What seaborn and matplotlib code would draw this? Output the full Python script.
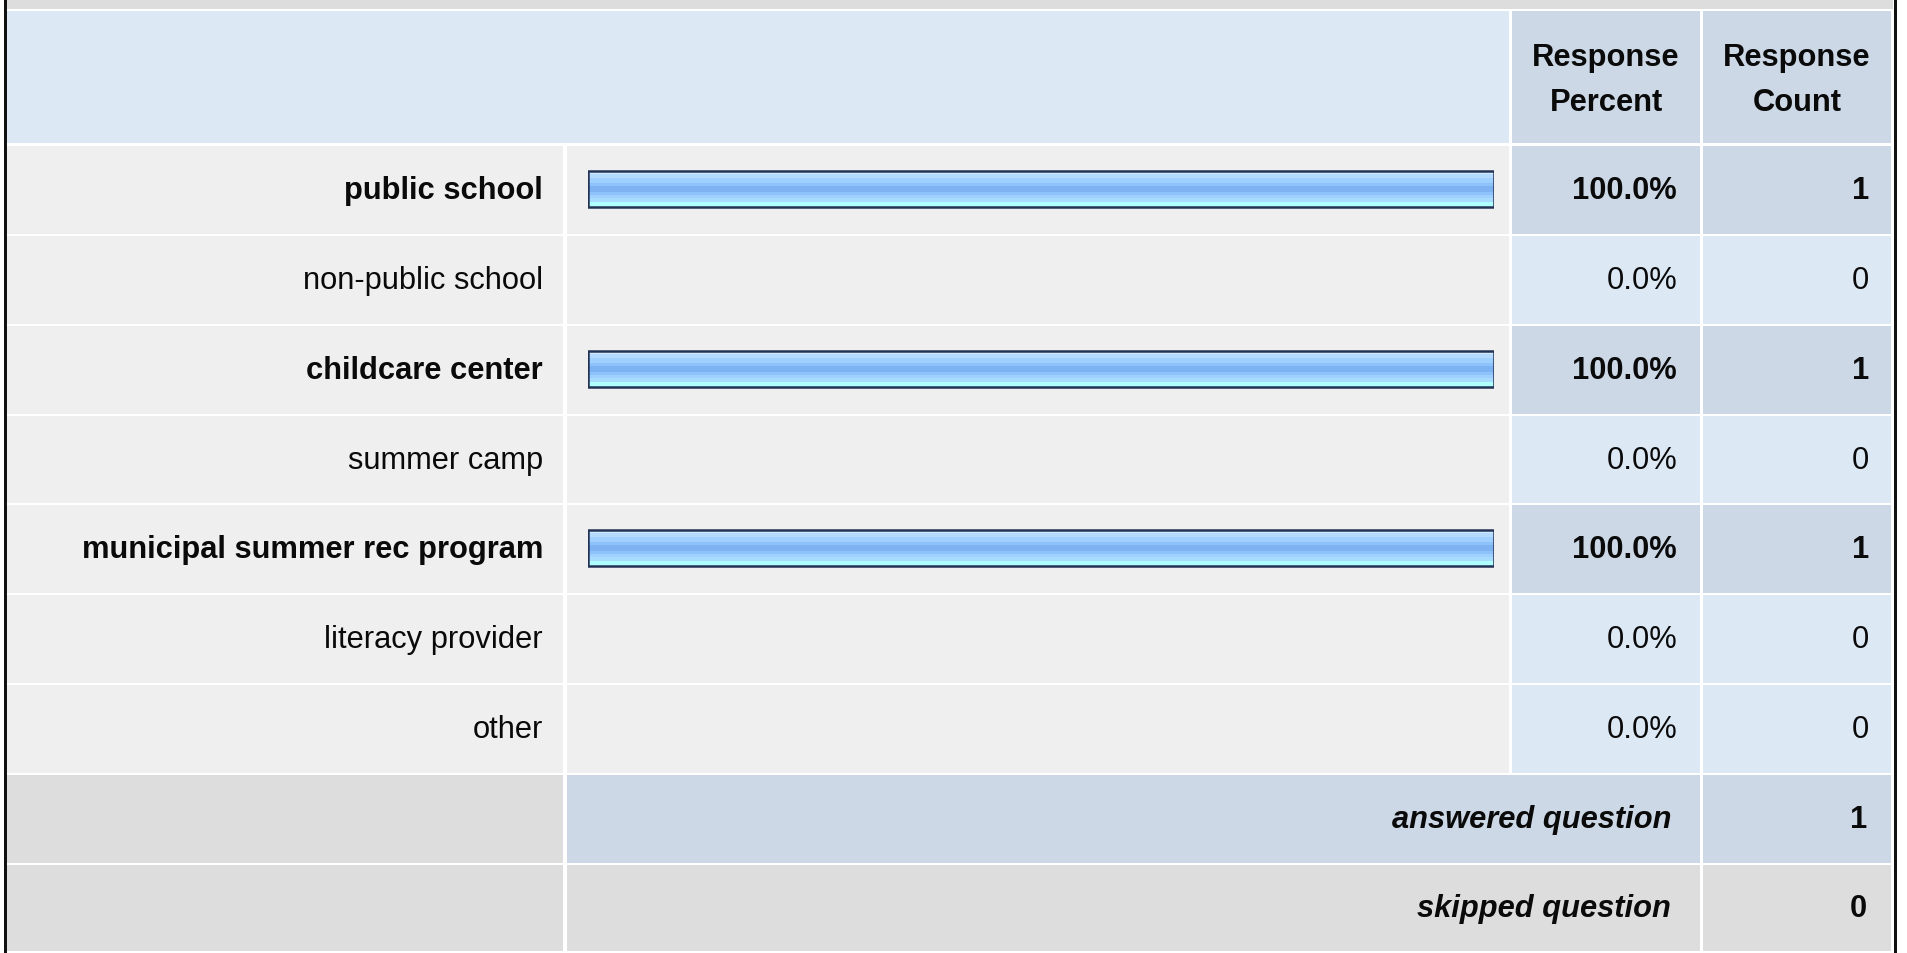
import numpy as np
import pandas as pd
import matplotlib
matplotlib.use("Agg")
import matplotlib.pyplot as plt
from matplotlib.patches import Rectangle
from matplotlib.colors import to_rgb
import seaborn as sns

# ---- data ----
categories = ["public school", "non-public school", "childcare center", "summer camp",
              "municipal summer rec program", "literacy provider", "other"]
percents = [100.0, 0.0, 100.0, 0.0, 100.0, 0.0, 0.0]
counts = [1, 0, 1, 0, 1, 0, 0]
header_labels = ["Response\nPercent", "Response\nCount"]
answered_label = "answered question"
answered_count = 1
skipped_label = "skipped question"
skipped_count = 0

sns.set_theme(style="white")
plt.rcParams["font.family"] = ["Liberation Sans", "DejaVu Sans"]

W, H = 1907, 954
fig = plt.figure(figsize=(W / 100, H / 100), dpi=100)
fig.patch.set_facecolor("white")

FS = 22.2
C_HEAD = "#dde8f5"
C_HEAD2 = "#ccd8e6"
C_ROW = "#efefef"
C_GRAY = "#dddddd"
C_HI = "#ccd8e6"
C_LO = "#dde8f5"
TXT = "#0a0a0a"

# background table layer in pixel coordinates
bg = fig.add_axes([0, 0, 1, 1])
bg.set_xlim(0, W)
bg.set_ylim(H, 0)
bg.axis("off")

def cell(x0, x1, y0, y1, color):
    bg.add_patch(Rectangle((x0, y0), x1 - x0, y1 - y0, facecolor=color,
                           edgecolor="none", zorder=1))

LX0, LX1 = 6.5, 563
BX0, BX1 = 567, 1509
PX0, PX1 = 1512, 1700
CX0, CX1 = 1703, 1891
TOP = 145.0
PITCH = 89.86

# top band and header
cell(6.5, 1893, 0, 9.5, C_GRAY)
cell(LX0, BX1, 11.5, 143.5, C_HEAD)
cell(PX0, PX1, 11.5, 143.5, C_HEAD2)
cell(CX0, CX1, 11.5, 143.5, C_HEAD2)
for txt, (a, b) in zip(header_labels, [(PX0, PX1), (CX0, CX1)]):
    l1, l2 = txt.split("\n")
    xc = (a + b) / 2
    bg.text(xc, 58, l1, ha="center", va="center", fontsize=FS, fontweight="bold", color=TXT, zorder=3)
    bg.text(xc, 103, l2, ha="center", va="center", fontsize=FS, fontweight="bold", color=TXT, zorder=3)

# category rows
for i, (cat, p, c) in enumerate(zip(categories, percents, counts)):
    y0 = TOP + PITCH * i + 2
    y1 = TOP + PITCH * (i + 1)
    yc = (y0 + y1) / 2
    hi = p > 0
    cell(LX0, LX1, y0, y1, C_ROW)
    cell(BX0, BX1, y0, y1, C_ROW)
    cell(PX0, PX1, y0, y1, C_HI if hi else C_LO)
    cell(CX0, CX1, y0, y1, C_HI if hi else C_LO)
    fw = "bold" if hi else "normal"
    bg.text(543, yc, cat, ha="right", va="center", fontsize=FS, fontweight=fw, color=TXT, zorder=3)
    bg.text(1677, yc, f"{p:.1f}%", ha="right", va="center", fontsize=FS, fontweight=fw, color=TXT, zorder=3)
    bg.text(1869, yc, f"{c}", ha="right", va="center", fontsize=FS, fontweight=fw, color=TXT, zorder=3)

# answered / skipped rows
n = len(categories)
for k, (lab, cnt, col) in enumerate([(answered_label, answered_count, C_HI),
                                     (skipped_label, skipped_count, C_GRAY)]):
    y0 = TOP + PITCH * (n + k) + 2
    y1 = min(TOP + PITCH * (n + k + 1), 952)
    yc = (y0 + y1) / 2
    cell(LX0, LX1, y0, y1, C_GRAY)
    cell(BX0, PX1, y0, y1, col)
    cell(CX0, CX1, y0, y1, col)
    bg.text(1671, yc, lab, ha="right", va="center", fontsize=FS, fontweight="bold",
            style="italic", color=TXT, zorder=3)
    bg.text(1867, yc, f"{cnt}", ha="right", va="center", fontsize=FS, fontweight="bold",
            color=TXT, zorder=3)

# black side borders
cell(3.5, 6.5, 0, H, "#111111")
cell(1893.5, 1897, 0, H, "#111111")

# ---- bar layer ----
bar_x0, bar_x1 = 588, 1494
ax = fig.add_axes([bar_x0 / W, 1 - (TOP + PITCH * n) / H, (bar_x1 - bar_x0) / W, PITCH * n / H])
ax.patch.set_alpha(0)
df = pd.DataFrame({"category": categories, "percent": percents})
sns.barplot(data=df, x="percent", y="category", orient="h", width=0.4,
            color="#99ccff", linewidth=0, ax=ax)
ax.set_xlim(0, 100)
ax.set_ylim(n - 0.5, -0.5)

stripes = [("#d2eaff", 3), ("#b4dbff", 3), ("#a0d0ff", 5), ("#8ec2fb", 3),
           ("#7db3f3", 5), ("#8ec2fb", 3), ("#a0d0ff", 3), ("#a8dcff", 3), ("#b0ffff", 5)]
grad = []
for col, cnt in stripes:
    grad += [to_rgb(col)] * cnt
grad = np.array(grad).reshape(-1, 1, 3)

for patch in list(ax.patches):
    w = patch.get_width()
    if w <= 0:
        patch.set_visible(False)
        continue
    x0 = patch.get_x()
    yt = patch.get_y()
    hgt = patch.get_height()
    im = ax.imshow(grad, extent=(x0, x0 + w, yt + hgt, yt), origin="upper",
                   aspect="auto", interpolation="nearest", zorder=2)
    im.set_clip_path(patch)
    ax.add_patch(Rectangle((x0, yt), w, hgt, facecolor="none", edgecolor="#223355",
                           linewidth=1.8, zorder=3))
ax.set_xlim(0, 100)
ax.set_ylim(n - 0.5, -0.5)
ax.axis("off")

fig.savefig("out.png", dpi=100, facecolor="white")
